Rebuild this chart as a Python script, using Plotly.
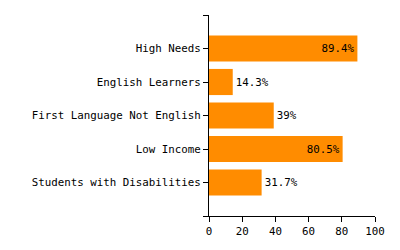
import plotly.graph_objects as go

categories = ["Students with Disabilities", "Low Income", "First Language Not English",
              "English Learners", "High Needs"]
values = [31.7, 80.5, 39, 14.3, 89.4]
labels = ["31.7%", "80.5%", "39%", "14.3%", "89.4%"]
x_ticks = [0, 20, 40, 60, 80, 100]

positions = list(range(len(categories)))
textpos = ["inside" if v > 50 else "outside" for v in values]

FONT = "DejaVu Sans Mono"
SIZE = 10.8

fig = go.Figure(go.Bar(
    x=values, y=positions, orientation="h",
    marker=dict(color="#FF8C00", line=dict(width=0)),
    width=0.78,
    text=labels, textposition=textpos,
    insidetextanchor="end",
    textfont=dict(family=FONT, size=SIZE, color="black"),
    cliponaxis=False,
))

fig.update_layout(
    width=400, height=250,
    margin=dict(l=209, r=25, t=15, b=29),
    paper_bgcolor="white", plot_bgcolor="white",
    font=dict(family=FONT, size=SIZE, color="black"),
    showlegend=False,
    uniformtext=dict(mode=False),
    xaxis=dict(range=[0, 100], tickvals=x_ticks, showgrid=False, zeroline=False,
               showline=True, linecolor="black", linewidth=1,
               ticks="outside", ticklen=5, tickcolor="black", tickwidth=1,
               tickfont=dict(family=FONT, size=SIZE, color="black")),
    yaxis=dict(range=[-1, 5], tickvals=[-1] + positions + [5],
               ticktext=[""] + categories + [""],
               showgrid=False, zeroline=False,
               showline=True, linecolor="black", linewidth=1,
               ticks="outside", ticklen=5, tickcolor="black", tickwidth=1,
               tickfont=dict(family=FONT, size=SIZE, color="black")),
)

fig.write_html("out.html")
